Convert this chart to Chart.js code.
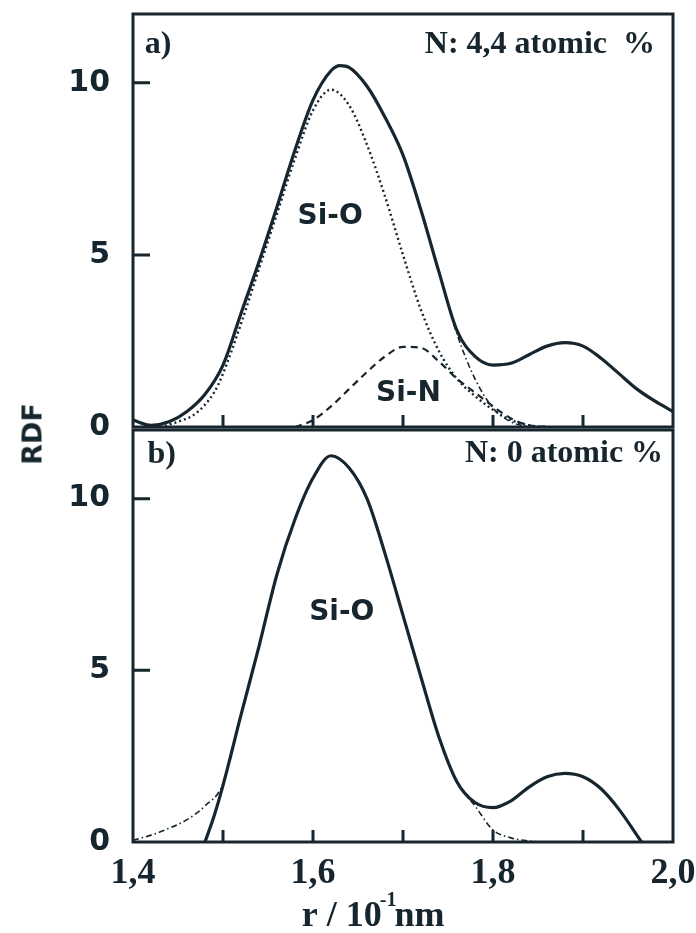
<!DOCTYPE html>
<html>
<head>
<meta charset="utf-8">
<script src="https://cdn.jsdelivr.net/npm/chart.js@4.4.1/dist/chart.umd.min.js"></script>
<style>
  body { margin: 0; background: #fff; width: 696px; height: 933px; position: relative; overflow: hidden; }
  .panel { position: absolute; left: 0; width: 696px; }
  #pa { top: 0; height: 445px; }
  #pb { top: 428px; height: 505px; }
  #rdf { position: absolute; left: 32px; top: 434px; transform: translate(-50%, -50%) rotate(-90deg);
         font: bold 27px "DejaVu Sans"; color: #17262e; }
</style>
</head>
<body>
<div class="panel" id="pb"><canvas id="chartB"></canvas></div>
<div class="panel" id="pa"><canvas id="chartA"></canvas></div>
<div id="rdf">RDF</div>
<script>
// panel a) N: 4,4 atomic %
const aTotalR = [1.40, 1.42, 1.44, 1.46, 1.48, 1.50, 1.52, 1.54, 1.56, 1.58, 1.60, 1.62, 1.63, 1.64, 1.66, 1.68, 1.70,
  1.72, 1.74, 1.76, 1.78, 1.80, 1.82, 1.84, 1.86, 1.88, 1.90, 1.92, 1.94, 1.96, 1.98, 2.00]
const aTotalRDF = [0.2, 0.05, 0.15, 0.45, 0.95, 1.8, 3.3, 4.8, 6.4, 8.05, 9.5, 10.35, 10.5, 10.45, 9.9, 9.0, 7.9,
  6.3, 4.5, 2.8, 2.05, 1.8, 1.85, 2.1, 2.35, 2.45, 2.35, 2.0, 1.55, 1.1, 0.75, 0.45]

const aSiOR = [1.43, 1.45, 1.47, 1.49, 1.50, 1.52, 1.54, 1.56, 1.58, 1.60, 1.62, 1.64, 1.66, 1.68, 1.70, 1.72,
  1.74, 1.76, 1.78, 1.80, 1.82, 1.84, 1.86]
const aSiORDF = [0, 0.15, 0.4, 1.0, 1.55, 3.0, 4.6, 6.2, 7.8, 9.2, 9.8, 9.35, 8.2, 6.7, 5.0, 3.4,
  2.2, 1.4, 0.9, 0.5, 0.2, 0.05, 0]

const aSiNR = [1.58, 1.60, 1.62, 1.64, 1.66, 1.68, 1.70, 1.72, 1.74, 1.76, 1.78, 1.80, 1.82, 1.84, 1.86]
const aSiNRDF = [0, 0.2, 0.6, 1.1, 1.6, 2.05, 2.33, 2.3, 1.9, 1.4, 1.0, 0.6, 0.25, 0.05, 0]

const aFitR = [1.74, 1.76, 1.78, 1.80, 1.82, 1.84]
const aFitRDF = [4.5, 2.7, 1.4, 0.55, 0.15, 0]

// panel b) N: 0 atomic %
const bTotalR = [1.48, 1.49, 1.50, 1.52, 1.54, 1.56, 1.58, 1.60, 1.62, 1.64, 1.66, 1.68, 1.70, 1.72, 1.74,
  1.76, 1.78, 1.80, 1.82, 1.84, 1.86, 1.88, 1.90, 1.92, 1.94, 1.965]
const bTotalRDF = [0, 0.75, 1.65, 3.7, 5.7, 7.8, 9.4, 10.6, 11.25, 10.9, 10.0, 8.4, 6.6, 4.8, 3.05,
  1.75, 1.15, 1.0, 1.2, 1.6, 1.9, 2.0, 1.9, 1.55, 0.95, 0]

const bFitR = [1.40, 1.42, 1.44, 1.46, 1.48, 1.50, 1.52, 1.54, 1.56, 1.58, 1.60, 1.62, 1.64, 1.66, 1.68,
  1.70, 1.72, 1.74, 1.76, 1.78, 1.80, 1.82, 1.84, 1.86]
const bFitRDF = [0.05, 0.2, 0.4, 0.65, 1.05, 1.7, 3.7, 5.7, 7.8, 9.4, 10.6, 11.25, 10.9, 10.0, 8.4,
  6.6, 4.8, 3.05, 1.75, 1.05, 0.35, 0.12, 0.03, 0]

const xMinorTicks = [1.5, 1.6, 1.7, 1.8, 1.9]
const yTickMarks = [5, 10]

const ink = '#17262e'
const serif = '"Liberation Serif", "Times New Roman", serif'
const sans = '"DejaVu Sans", sans-serif'

const points = (xs, ys) => xs.map((x, i) => ({ x: x, y: ys[i] }))

const line = (xs, ys, width, dash) => ({
  data: points(xs, ys),
  borderColor: ink,
  borderWidth: width,
  borderDash: dash,
  pointRadius: 0,
  fill: false,
  tension: 0.4,
  cubicInterpolationMode: 'monotone'
})

// box, inward ticks and the texts inside the panel
const makeFrame = (notes, withTitle) => ({
  id: 'frame',
  afterDatasetsDraw(chart) {
    const { ctx, chartArea: a } = chart
    const x = chart.scales.x
    const y = chart.scales.y
    ctx.save()
    ctx.strokeStyle = ink
    ctx.lineWidth = 3
    ctx.strokeRect(a.left, a.top, a.right - a.left, a.bottom - a.top)
    ctx.beginPath()
    xMinorTicks.forEach(v => {
      const px = x.getPixelForValue(v)
      ctx.moveTo(px, a.bottom)
      ctx.lineTo(px, a.bottom - 12)
    })
    yTickMarks.forEach(v => {
      const py = y.getPixelForValue(v)
      ctx.moveTo(a.left, py)
      ctx.lineTo(a.left + 17, py)
    })
    ctx.stroke()

    ctx.fillStyle = ink
    ctx.textBaseline = 'middle'
    notes.forEach(n => {
      ctx.font = n.font
      ctx.textAlign = n.align || 'center'
      ctx.fillText(n.text, x.getPixelForValue(n.x), y.getPixelForValue(n.y))
    })

    if (withTitle) {
      // r / 10^-1 nm
      const big = 'bold 36px ' + serif
      const small = 'bold 20px ' + serif
      ctx.textAlign = 'left'
      ctx.textBaseline = 'alphabetic'
      ctx.font = big
      const w1 = ctx.measureText('r / 10').width
      const w3 = ctx.measureText('nm').width
      ctx.font = small
      const w2 = ctx.measureText('-1').width
      const left = x.getPixelForValue(1.669) - (w1 + w2 + w3) / 2
      const base = a.bottom + 84
      ctx.font = big
      ctx.fillText('r / 10', left, base)
      ctx.font = small
      ctx.fillText('-1', left + w1 - 2, base - 20)
      ctx.font = big
      ctx.fillText('nm', left + w1 + w2 - 4, base)
    }
    ctx.restore()
  }
})

const yScale = {
  min: 0,
  max: 12,
  grid: { display: false },
  border: { display: false },
  ticks: {
    stepSize: 5,
    includeBounds: false,
    color: ink,
    padding: 15,
    font: { family: sans, size: 30, weight: 'bold' }
  },
  afterFit: scale => {
    scale.width = 133
    scale.paddingTop = 0
    scale.paddingBottom = 0
  }
}

const chartA = new Chart(document.getElementById('chartA'), {
  type: 'line',
  data: {
    datasets: [
      line(aTotalR, aTotalRDF, 3.2, []),
      line(aSiOR, aSiORDF, 2.4, [2, 3]),
      line(aSiNR, aSiNRDF, 2.2, [7, 5]),
      line(aFitR, aFitRDF, 1.6, [6, 3, 1.5, 3])
    ]
  },
  options: {
    responsive: true,
    maintainAspectRatio: false,
    animation: false,
    layout: { padding: { top: 14, right: 23, bottom: 18, left: 0 } },
    plugins: { legend: { display: false }, tooltip: { enabled: false } },
    scales: {
      x: { type: 'linear', min: 1.4, max: 2.0, display: false },
      y: yScale
    }
  },
  plugins: [makeFrame([
    { text: 'a)', x: 1.428, y: 11.1, font: 'bold 32px ' + serif },
    { text: 'N: 4,4 atomic  %', x: 1.98, y: 11.1, align: 'right', font: 'bold 32px ' + serif },
    { text: 'Si-O', x: 1.619, y: 6.1, font: 'bold 28px ' + sans },
    { text: 'Si-N', x: 1.706, y: 0.96, font: 'bold 28px ' + sans }
  ], false)]
})

const chartB = new Chart(document.getElementById('chartB'), {
  type: 'line',
  data: {
    datasets: [
      line(bTotalR, bTotalRDF, 3.2, []),
      line(bFitR, bFitRDF, 1.6, [6, 3, 1.5, 3])
    ]
  },
  options: {
    responsive: true,
    maintainAspectRatio: false,
    animation: false,
    layout: { padding: { top: 2, right: 23, bottom: 0, left: 0 } },
    plugins: { legend: { display: false }, tooltip: { enabled: false } },
    scales: {
      x: {
        type: 'linear',
        min: 1.4,
        max: 2.0,
        grid: { display: false, drawTicks: false },
        border: { display: false },
        ticks: {
          stepSize: 0.2,
          color: ink,
          padding: 10,
          maxRotation: 0,
          font: { family: serif, size: 36, weight: 'bold' },
          callback: v => v.toFixed(1).replace('.', ',')
        },
        afterFit: scale => {
          scale.height = 91
          scale.paddingLeft = 0
          scale.paddingRight = 0
        }
      },
      y: yScale
    }
  },
  plugins: [makeFrame([
    { text: 'b)', x: 1.432, y: 11.27, font: 'bold 32px ' + serif },
    { text: 'N: 0 atomic %', x: 1.989, y: 11.3, align: 'right', font: 'bold 32px ' + serif },
    { text: 'Si-O', x: 1.632, y: 6.67, font: 'bold 28px ' + sans }
  ], true)]
})
</script>
</body>
</html>
